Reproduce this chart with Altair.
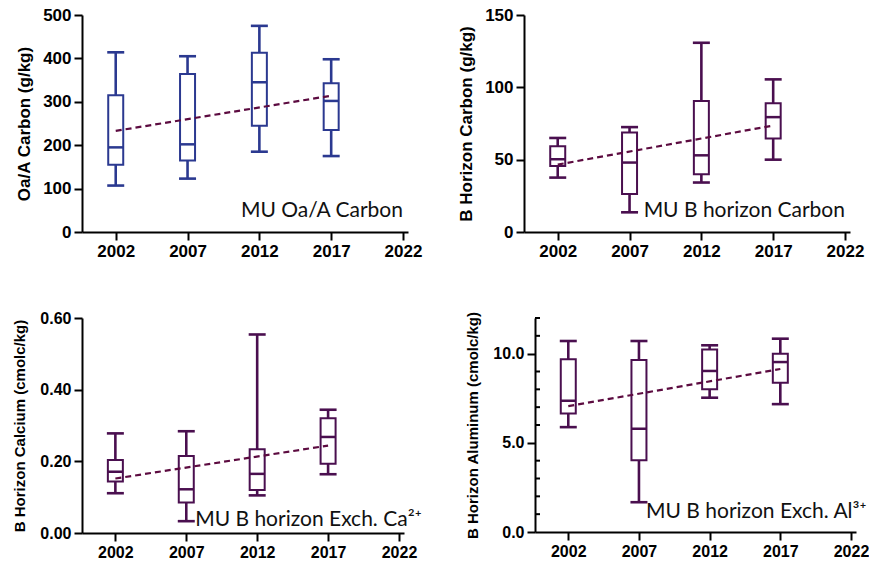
import altair as alt
import pandas as pd

YEARS = [2002, 2007, 2012, 2017]
X_TICKS = [2002, 2007, 2012, 2017, 2022]
TREND_YEARS = [2002, 2017]

# Panel 1: MU Oa/A Carbon (g/kg)
oa_min = [107, 123, 185, 175]
oa_q1 = [155, 165, 245, 235]
oa_med = [195, 202, 345, 302]
oa_q3 = [315, 364, 413, 343]
oa_max = [414, 405, 475, 398]
oa_trend = [233, 314]

# Panel 2: MU B horizon Carbon (g/kg)
bc_min = [37.6, 13.6, 34.2, 50.0]
bc_q1 = [45.7, 26.3, 40.0, 64.6]
bc_med = [50.3, 48.0, 53.0, 79.4]
bc_q3 = [59.3, 68.8, 90.5, 89.0]
bc_max = [65.0, 72.5, 130.8, 105.5]
bc_trend = [46.6, 73.6]

# Panel 3: MU B horizon Exch. Ca2+ (cmolc/kg)
ca_min = [0.111, 0.033, 0.105, 0.164]
ca_q1 = [0.144, 0.085, 0.120, 0.193]
ca_med = [0.171, 0.122, 0.165, 0.268]
ca_q3 = [0.204, 0.215, 0.234, 0.320]
ca_max = [0.278, 0.284, 0.554, 0.344]
ca_trend = [0.152, 0.244]

# Panel 4: MU B horizon Exch. Al3+ (cmolc/kg)
al_min = [5.88, 1.67, 7.53, 7.17]
al_q1 = [6.65, 4.03, 8.00, 8.37]
al_med = [7.36, 5.79, 9.03, 9.53]
al_q3 = [9.68, 9.64, 10.24, 10.00]
al_max = [10.71, 10.71, 10.47, 10.84]
al_trend = [7.06, 9.14]
AL_MINOR_TICKS = [1, 2, 3, 4, 6, 7, 8, 9, 11, 12]

BLUE = "#2B3990"
PURPLE = "#4A0F4F"
TREND = "#5C0B40"
AXIS_FONT = "Liberation Sans"
NOTE_FONT = "Lato"


def panel(mins, q1s, meds, q3s, maxs, trend, color, title, ydomain, yvalues,
          yfmt, note, note_x, note_y, w, h, label_size, title_size,
          extent, title_pad, minor=None):
    df = pd.DataFrame({"year": YEARS, "lo": mins, "q1": q1s, "med": meds,
                       "q3": q3s, "hi": maxs})
    tdf = pd.DataFrame({"year": TREND_YEARS, "v": trend})
    ndf = pd.DataFrame({"year": [note_x], "v": [note_y], "t": [note]})
    xscale = alt.Scale(domain=[2000, 2022], nice=False, zero=False)
    yscale = alt.Scale(domain=ydomain, nice=False, zero=True)
    xaxis = alt.Axis(values=X_TICKS, format="d", title=None, grid=False,
                     labelFlush=False, labelOverlap=False,
                     labelFontSize=label_size)
    yaxis = alt.Axis(values=yvalues, format=yfmt, title=title, grid=False,
                     labelOverlap=False, labelFontSize=label_size,
                     titleFontSize=title_size, minExtent=extent,
                     maxExtent=extent, titlePadding=title_pad)
    base = alt.Chart(df).encode(x=alt.X("year:Q", scale=xscale, axis=xaxis))
    whisk = base.mark_rule(color=color, strokeWidth=2.6).encode(
        y=alt.Y("lo:Q", scale=yscale, axis=yaxis), y2="hi:Q")
    box = base.mark_bar(size=15, fill="white", stroke=color, strokeWidth=2).encode(
        y="q1:Q", y2="q3:Q")
    med = base.mark_tick(orient="horizontal", size=15, thickness=2.5,
                         color=color, opacity=1).encode(y="med:Q")
    cap_lo = base.mark_tick(orient="horizontal", size=17, thickness=2.6,
                            color=color, opacity=1).encode(y="lo:Q")
    cap_hi = base.mark_tick(orient="horizontal", size=17, thickness=2.6,
                            color=color, opacity=1).encode(y="hi:Q")
    tline = alt.Chart(tdf).mark_line(color=TREND, strokeDash=[6, 4],
                                     strokeWidth=2.2).encode(x="year:Q", y="v:Q")
    text = alt.Chart(ndf).mark_text(align="right", baseline="alphabetic",
                                    font=NOTE_FONT, fontSize=21,
                                    color="#111111").encode(
        x="year:Q", y="v:Q", text="t:N")
    layers = [whisk, box, med, cap_lo, cap_hi, tline, text]
    if minor is not None:
        mdf = pd.DataFrame({"v": minor})
        mt = alt.Chart(mdf).mark_tick(orient="horizontal", size=5, thickness=2,
                                      color="black", opacity=1, xOffset=-2.5).encode(
            x=alt.datum(2000), y="v:Q")
        layers.append(mt)
    return alt.layer(*layers).properties(width=w, height=h)


p1 = panel(oa_min, oa_q1, oa_med, oa_q3, oa_max, oa_trend, BLUE,
           "Oa/A Carbon (g/kg)", [0, 500], [0, 100, 200, 300, 400, 500], "d",
           "MU Oa/A Carbon", 2022, 35, 326, 217, 17, 17, 42, 7)
p2 = panel(bc_min, bc_q1, bc_med, bc_q3, bc_max, bc_trend, PURPLE,
           "B Horizon Carbon (g/kg)", [0, 150], [0, 50, 100, 150], "d",
           "MU B horizon Carbon", 2022, 10.5, 326, 217, 17, 17, 42, 7)
p3 = panel(ca_min, ca_q1, ca_med, ca_q3, ca_max, ca_trend, PURPLE,
           "B Horizon Calcium (cmolc/kg)", [0, 0.6], [0, 0.2, 0.4, 0.6], ".2f",
           "MU B horizon Exch. Ca²⁺", 2023.6, 0.02, 322, 215, 16, 15, 46, 9)
p4 = panel(al_min, al_q1, al_med, al_q3, al_max, al_trend, PURPLE,
           "B Horizon Aluminum (cmolc/kg)", [0, 12], [0, 5, 10], ".1f",
           "MU B horizon Exch. Al³⁺", 2023.1, 0.78, 321, 214, 16, 15, 46, 9,
           minor=AL_MINOR_TICKS)

row1 = alt.hconcat(p1, p2, spacing=35)
row2 = alt.hconcat(p3, p4, spacing=43)

chart = alt.vconcat(row1, row2, spacing=51).properties(
    padding={"left": 12, "top": 6, "right": 0, "bottom": 0},
    background="white"
).configure_axis(
    domainColor="black", domainWidth=2, tickColor="black", tickWidth=2,
    tickSize=8, labelFont=AXIS_FONT, labelFontWeight="bold",
    labelColor="black", titleFont=AXIS_FONT, titleFontWeight="bold",
    titleColor="black", labelPadding=3, grid=False
).configure_view(stroke=None)

chart.save("out.html", embed_options={"renderer": "svg", "actions": False})
